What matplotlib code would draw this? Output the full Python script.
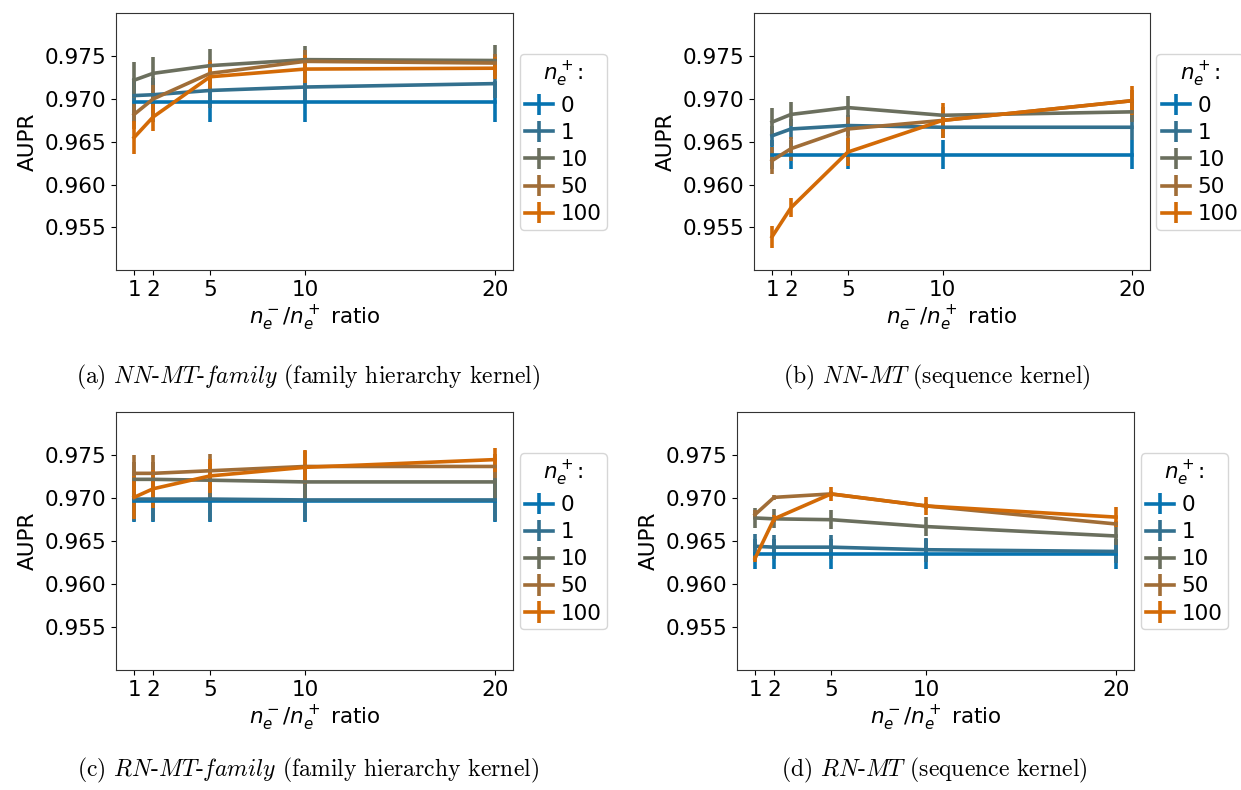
import matplotlib
matplotlib.use("Agg")
import matplotlib.pyplot as plt

plt.rcParams["mathtext.fontset"] = "dejavusans"

ratios = [1, 2, 5, 10, 20]
n_pos = ["0", "1", "10", "50", "100"]
colores = ["#0673b0", "#33708e", "#6b6f5e", "#a06d37", "#d36a06"]
y_ticks = [0.955, 0.960, 0.965, 0.970, 0.975]

# (a) NN-MT-family
a_medias = [
    [0.9697, 0.9697, 0.9697, 0.9697, 0.9697],
    [0.9704, 0.9705, 0.9710, 0.9714, 0.9718],
    [0.9722, 0.9730, 0.9739, 0.9746, 0.9745],
    [0.9682, 0.9700, 0.9730, 0.9744, 0.9742],
    [0.9655, 0.9679, 0.9726, 0.9735, 0.9736],
]
a_errores = [
    [0.0024, 0.0024, 0.0024, 0.0024, 0.0024],
    [0.0020, 0.0020, 0.0020, 0.0017, 0.0017],
    [0.0021, 0.0019, 0.0019, 0.0016, 0.0018],
    [0.0017, 0.0016, 0.0016, 0.0013, 0.0011],
    [0.0019, 0.0016, 0.0017, 0.0016, 0.0013],
]

# (b) NN-MT
b_medias = [
    [0.9635, 0.9635, 0.9635, 0.9635, 0.9635],
    [0.9657, 0.9665, 0.9669, 0.9667, 0.9667],
    [0.9673, 0.9682, 0.9690, 0.9681, 0.9685],
    [0.9628, 0.9642, 0.9665, 0.9675, 0.9698],
    [0.9539, 0.9573, 0.9638, 0.9675, 0.9698],
]
b_errores = [
    [0.0017, 0.0017, 0.0017, 0.0017, 0.0017],
    [0.0012, 0.0012, 0.0012, 0.0013, 0.0015],
    [0.0016, 0.0014, 0.0013, 0.0010, 0.0012],
    [0.0016, 0.0014, 0.0014, 0.0012, 0.0012],
    [0.0013, 0.0011, 0.0016, 0.0020, 0.0017],
]

# (c) RN-MT-family
c_medias = [
    [0.9697, 0.9697, 0.9697, 0.9697, 0.9697],
    [0.9699, 0.9699, 0.9699, 0.9698, 0.9698],
    [0.9722, 0.9722, 0.9721, 0.9719, 0.9719],
    [0.9729, 0.9729, 0.9732, 0.9737, 0.9737],
    [0.9701, 0.9711, 0.9726, 0.9736, 0.9745],
]
c_errores = [
    [0.0025, 0.0025, 0.0025, 0.0025, 0.0025],
    [0.0025, 0.0025, 0.0025, 0.0025, 0.0025],
    [0.0020, 0.0020, 0.0020, 0.0020, 0.0020],
    [0.0021, 0.0021, 0.0020, 0.0018, 0.0014],
    [0.0025, 0.0022, 0.0020, 0.0020, 0.0014],
]

# (d) RN-MT
d_medias = [
    [0.9635, 0.9635, 0.9635, 0.9635, 0.9635],
    [0.9644, 0.9643, 0.9643, 0.9640, 0.9638],
    [0.9677, 0.9676, 0.9675, 0.9667, 0.9656],
    [0.9681, 0.9701, 0.9705, 0.9691, 0.9670],
    [0.9630, 0.9676, 0.9705, 0.9691, 0.9678],
]
d_errores = [
    [0.0017, 0.0017, 0.0017, 0.0017, 0.0017],
    [0.0014, 0.0014, 0.0014, 0.0014, 0.0014],
    [0.0012, 0.0011, 0.0011, 0.0011, 0.0010],
    [0.0005, 0.0003, 0.0003, 0.0003, 0.0003],
    [0.0004, 0.0004, 0.0008, 0.0011, 0.0012],
]

paneles = [
    (a_medias, a_errores, [0.0935, 0.658, 0.320, 0.325],
     r"(a) $\mathit{NN}$-$\mathit{MT}$-$\mathit{family}$ (family hierarchy kernel)", (0.248, 0.522)),
    (b_medias, b_errores, [0.6076, 0.658, 0.319, 0.325],
     r"(b) $\mathit{NN}$-$\mathit{MT}$ (sequence kernel)", (0.755, 0.522)),
    (c_medias, c_errores, [0.0935, 0.152, 0.320, 0.326],
     r"(c) $\mathit{RN}$-$\mathit{MT}$-$\mathit{family}$ (family hierarchy kernel)", (0.248, 0.025)),
    (d_medias, d_errores, [0.5939, 0.152, 0.320, 0.326],
     r"(d) $\mathit{RN}$-$\mathit{MT}$ (sequence kernel)", (0.753, 0.025)),
]

fig = plt.figure(figsize=(12.41, 7.90), dpi=100)

for medias, errores, pos, titulo, pos_titulo in paneles:
    ax = fig.add_axes(pos)
    for i in range(len(n_pos)):
        ax.errorbar(ratios, medias[i], yerr=errores[i], color=colores[i],
                    lw=2.6, elinewidth=2.6, label=n_pos[i])
    ax.set_ylim(0.950, 0.980)
    ax.set_yticks(y_ticks)
    ax.set_yticklabels(["%.3f" % t for t in y_ticks])
    ax.set_xticks(ratios)
    ax.tick_params(labelsize=15.5)
    ax.set_xlabel(r"$n_e^-/n_e^+$ ratio", fontsize=15.5, labelpad=3)
    ax.set_ylabel("AUPR", fontsize=15.5, labelpad=5)
    for s in ax.spines.values():
        s.set_color("#333333")
    ax.legend(title=r"$n_e^+$:", loc="center left", bbox_to_anchor=(1.0, 0.5),
              fontsize=15.5, title_fontsize=15.5, handlelength=1.3,
              handletextpad=0.35, borderpad=0.25, labelspacing=0.33,
              borderaxespad=0.3)
    with plt.rc_context({"mathtext.fontset": "cm"}):
        fig.text(pos_titulo[0], pos_titulo[1], titulo, ha="center", va="center",
                 fontsize=17, family="cmr10")

fig.savefig("out.png", dpi=100)
